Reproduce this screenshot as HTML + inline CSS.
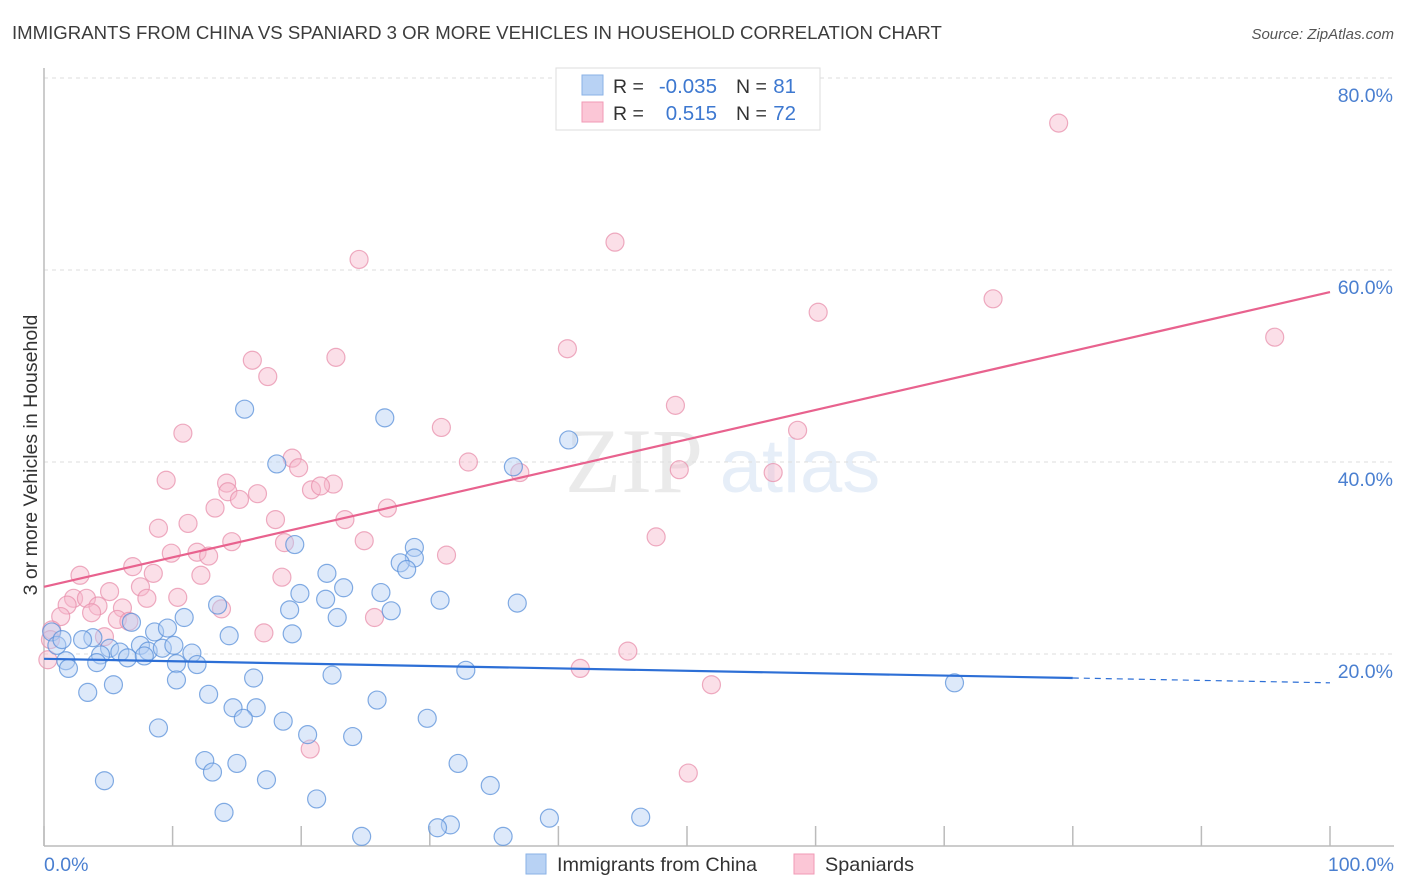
<!DOCTYPE html>
<html><head><meta charset="utf-8"><style>
body{margin:0;background:#fff;font-family:"Liberation Sans",sans-serif;}
svg{display:block}
</style></head><body>
<svg width="1406" height="892" xmlns="http://www.w3.org/2000/svg">
<text x="12" y="39" font-size="18.6" fill="#3c3c3c">IMMIGRANTS FROM CHINA VS SPANIARD 3 OR MORE VEHICLES IN HOUSEHOLD CORRELATION CHART</text>
<text x="1394" y="39" font-size="15" font-style="italic" fill="#555" text-anchor="end">Source: ZipAtlas.com</text>
<g opacity="0.13">
<text x="634" y="492" font-family="Liberation Serif" font-size="92" fill="#666" text-anchor="middle">ZIP</text>
<text x="800" y="492" font-size="76" fill="#4a7fd0" text-anchor="middle">atlas</text>
</g>
<g id="grid"></g>
<g id="axes"></g>
<g id="pts"></g>
<g id="trends"></g>
<text x="30" y="462" font-size="19.5" fill="#333" text-anchor="middle" transform="rotate(-90 30 455)">3 or more Vehicles in Household</text>
<text x="44" y="871" font-size="19.5" fill="#4a7fd0">0.0%</text>
<text x="1394" y="871" font-size="19.5" fill="#4a7fd0" text-anchor="end">100.0%</text>
<g>
<rect x="556" y="68" width="264" height="62" fill="#fff" stroke="#ddd"/>
<rect x="582" y="75" width="21" height="20" fill="#b8d2f4" stroke="#8ab2e6"/>
<rect x="582" y="102" width="21" height="20" fill="#fbc6d6" stroke="#f09ab6"/>
<text x="613" y="93" font-size="19.5" fill="#333">R = </text><text x="717" y="93" font-size="20.5" fill="#3d78d0" text-anchor="end">-0.035</text>
<text x="736" y="93" font-size="19.5" fill="#333">N = </text><text x="796" y="93" font-size="20.5" fill="#3d78d0" text-anchor="end">81</text>
<text x="613" y="120" font-size="19.5" fill="#333">R = </text><text x="717" y="120" font-size="20.5" fill="#3d78d0" text-anchor="end">0.515</text>
<text x="736" y="120" font-size="19.5" fill="#333">N = </text><text x="796" y="120" font-size="20.5" fill="#3d78d0" text-anchor="end">72</text>
</g>
<g>
<rect x="526" y="854" width="20" height="20" fill="#b8d2f4" stroke="#8ab2e6"/>
<text x="557" y="871" font-size="19.8" fill="#333">Immigrants from China</text>
<rect x="794" y="854" width="20" height="20" fill="#fbc6d6" stroke="#f09ab6"/>
<text x="825" y="871" font-size="19.8" fill="#333">Spaniards</text>
</g>
</svg>
<script>
const yTicks=[20,40,60,80];
const yTickLabels=["20.0%","40.0%","60.0%","80.0%"];
const xTicks=[0,10,20,30,40,50,60,70,80,90,100];
const chinaX=[15.6,26.5,40.8,18.1,36.5,19.5,28.8,28.8,27.7,28.2,22.0,23.3,19.9,26.2,21.9,13.5,30.8,36.8,19.1,27.0,22.8,10.9,6.8,8.6,9.6,14.4,19.3,0.6,1.0,3.8,3.0,1.4,5.1,5.9,7.5,8.1,9.2,10.1,11.5,6.5,7.8,1.7,4.4,4.1,10.3,11.9,10.3,32.8,22.4,16.3,70.8,1.9,3.4,5.4,12.8,25.9,14.7,16.5,15.5,18.6,29.8,8.9,20.5,24.0,12.5,13.1,15.0,32.2,4.7,17.3,34.7,21.2,14.0,39.3,46.4,31.6,30.6,24.7,35.7];
const chinaY=[45.5,44.6,42.3,39.8,39.5,31.4,31.1,30.0,29.5,28.8,28.4,26.9,26.3,26.4,25.7,25.1,25.6,25.3,24.6,24.5,23.8,23.8,23.3,22.3,22.7,21.9,22.1,22.3,20.9,21.7,21.5,21.5,20.6,20.2,20.9,20.3,20.6,20.9,20.1,19.6,19.8,19.3,19.9,19.1,19.0,18.9,17.3,18.3,17.8,17.5,17.0,18.5,16.0,16.8,15.8,15.2,14.4,14.4,13.3,13.0,13.3,12.3,11.6,11.4,8.9,7.7,8.6,8.6,6.8,6.9,6.3,4.9,3.5,2.9,3.0,2.2,1.9,1.0,1.0];
const spanX=[78.9,44.4,24.5,73.8,60.2,95.7,40.7,16.2,22.7,17.4,49.1,10.8,30.9,58.6,19.3,33.0,19.8,37.0,49.4,56.7,9.5,14.2,22.5,14.3,20.8,21.5,16.6,15.2,13.3,26.7,18.0,11.2,23.4,8.9,47.6,24.9,14.6,18.7,9.9,11.9,12.8,31.3,6.9,2.8,8.5,12.2,18.5,5.1,7.5,8.0,10.4,2.3,3.3,4.2,1.8,6.1,3.7,1.3,13.8,5.7,6.6,25.7,17.1,4.7,0.6,0.3,45.4,41.7,51.9,20.7,50.1,0.5];
const spanY=[75.3,62.9,61.1,57.0,55.6,53.0,51.8,50.6,50.9,48.9,45.9,43.0,43.6,43.3,40.4,40.0,39.4,38.9,39.2,38.9,38.1,37.8,37.7,36.9,37.1,37.5,36.7,36.1,35.2,35.2,34.0,33.6,34.0,33.1,32.2,31.8,31.7,31.6,30.5,30.6,30.2,30.3,29.1,28.2,28.4,28.2,28.0,26.5,27.0,25.8,25.9,25.8,25.8,25.0,25.1,24.8,24.3,23.9,24.7,23.6,23.4,23.8,22.2,21.8,22.5,19.4,20.3,18.5,16.8,10.1,7.6,21.5];
const chinaTrend=[19.5,17.0];
const spanTrend=[27.0,57.7];
const X0=44,X1=1330,Y0=846,PX20=192;
const sx=v=>X0+(X1-X0)*v/100;
const sy=v=>Y0-v*PX20/20;
const NS="http://www.w3.org/2000/svg";
function mk(tag,attrs,parent){const e=document.createElementNS(NS,tag);for(const k in attrs)e.setAttribute(k,attrs[k]);document.getElementById(parent).appendChild(e);return e;}
yTicks.forEach((t,i)=>{
  const l=mk('line',{x1:X0,x2:1394,y1:sy(t),y2:sy(t),stroke:'#ddd','stroke-dasharray':'4,4'},'grid');
  
  
  const tx=mk('text',{x:1393,y:sy(t)+24,'font-size':19.5,fill:'#4a7fd0','text-anchor':'end'},'grid');
  tx.textContent=yTickLabels[i];
  
  
});
mk('line',{x1:X0,x2:X0,y1:68,y2:Y0,stroke:'#bbb','stroke-width':1.5},'axes');
mk('line',{x1:X0,x2:1394,y1:Y0,y2:Y0,stroke:'#bbb','stroke-width':1.5},'axes');
xTicks.forEach(t=>{
  const l=mk('line',{x1:sx(t),x2:sx(t),y1:Y0-20,y2:Y0,stroke:'#bbb','stroke-width':1.5},'axes');
  
  
});
function dots(xs,ys,fill,stroke,name){
  xs.forEach((x,i)=>{
    const c=mk('circle',{cx:sx(x),cy:sy(ys[i]),r:9,fill:fill,'fill-opacity':0.45,stroke:stroke,'stroke-opacity':0.75,'stroke-width':1.2},'pts');
    
    
  });
}
dots(spanX,spanY,'#f7b9cc','#e890ac','spaniard-point');
dots(chinaX,chinaY,'#b3cff3','#5a90da','china-point');
const pl=mk('line',{x1:sx(0),y1:sy(spanTrend[0]),x2:sx(100),y2:sy(spanTrend[1]),stroke:'#e8628e','stroke-width':2.2},'trends');


const cy80=chinaTrend[0]+(chinaTrend[1]-chinaTrend[0])*0.8;
const bl=mk('line',{x1:sx(0),y1:sy(chinaTrend[0]),x2:sx(80),y2:sy(cy80),stroke:'#2d6fd6','stroke-width':2.2},'trends');


const bd=mk('line',{x1:sx(80),y1:sy(cy80),x2:sx(100),y2:sy(chinaTrend[1]),stroke:'#2d6fd6','stroke-width':1.2,'stroke-dasharray':'6,5'},'trends');


</script>
</body></html>
